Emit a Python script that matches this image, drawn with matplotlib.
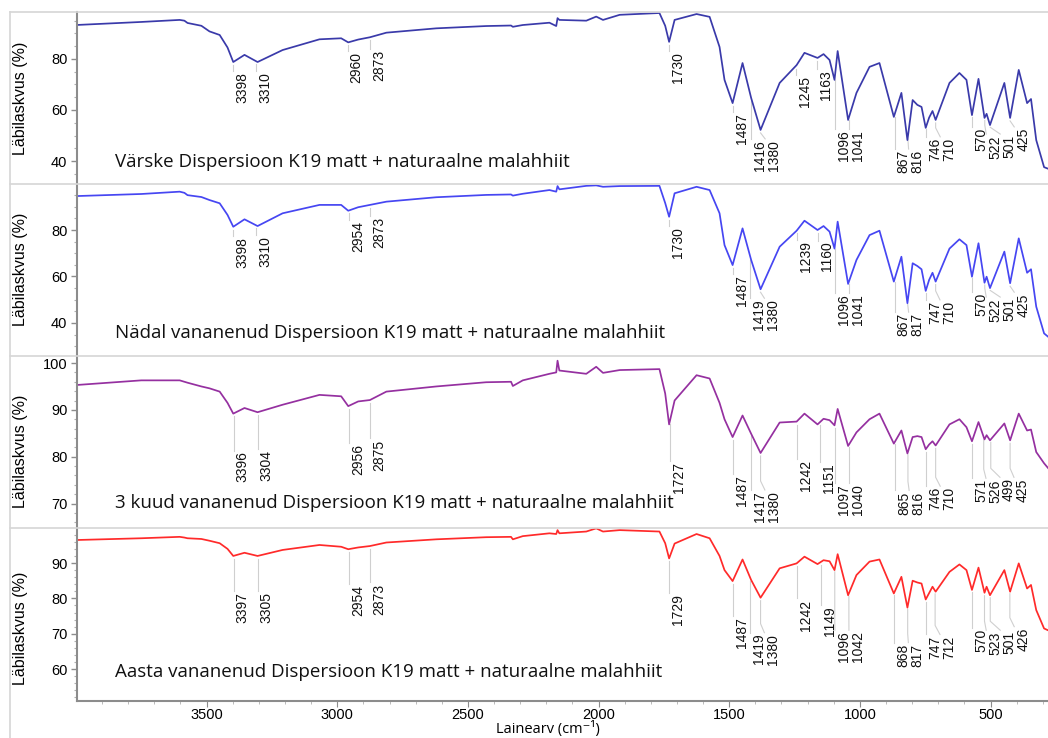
import numpy as np
import matplotlib.pyplot as plt
from matplotlib.lines import Line2D
from matplotlib.ticker import MultipleLocator

# Wavenumber nodes (cm-1), shared by all four spectra
wavenumber = [4000, 3750, 3603, 3585, 3573, 3520, 3489, 3450, 3420, 3398, 3355, 3305,
              3209, 3068, 2985, 2958, 2920, 2875, 2812, 2621, 2430, 2335, 2328, 2290,
              2188, 2162, 2157, 2150, 2047, 2009, 1983, 1919, 1767, 1745, 1730, 1709,
              1625, 1575, 1537, 1518, 1487, 1449, 1416, 1380, 1307, 1242, 1212, 1162,
              1139, 1116, 1097, 1085, 1045, 1013, 963, 925, 870, 841, 818, 798,
              780, 764, 748, 735, 722, 710, 657, 619, 592, 571, 546, 523,
              515, 502, 447, 425, 392, 360, 345, 325, 295, 280]

# Transmittance (%)
vaerske = [93.3, 94.5, 95.3, 95.0, 94.1, 93.0, 90.8, 89.4, 84.5, 78.8, 81.6, 78.8,
           83.5, 87.7, 88.1, 86.5, 87.6, 88.5, 90.3, 92.0, 92.9, 93.1, 92.6, 93.3,
           94.2, 92.9, 96.0, 95.3, 95.0, 96.6, 95.3, 97.3, 98.0, 93.0, 86.7, 95.3,
           97.6, 96.5, 84.7, 71.8, 62.7, 78.4, 64.7, 52.2, 70.6, 77.6, 82.4, 80.4,
           81.9, 79.6, 71.8, 83.1, 56.1, 66.7, 76.9, 78.4, 57.3, 66.7, 48.2, 63.9,
           62.0, 61.2, 53.0, 57.0, 59.6, 56.1, 70.6, 74.5, 71.8, 58.0, 72.2, 56.9,
           58.5, 54.1, 70.6, 56.9, 75.7, 62.7, 64.3, 48.2, 37.6, 37.0]

naedal = [94.6, 95.5, 96.5, 96.0, 95.0, 94.2, 92.9, 91.5, 86.5, 81.4, 84.6, 81.7,
          87.2, 90.8, 90.8, 88.3, 89.8, 90.8, 92.2, 94.1, 95.1, 95.3, 94.8, 95.6,
          97.2, 96.5, 98.9, 97.5, 99.0, 99.2, 98.6, 98.9, 99.0, 91.6, 85.7, 95.8,
          98.6, 97.2, 87.2, 73.5, 64.9, 80.7, 67.1, 54.5, 72.8, 79.7, 84.0, 80.0,
          81.7, 79.3, 72.0, 83.6, 56.8, 67.1, 77.8, 79.7, 57.8, 68.5, 48.5, 65.7,
          64.5, 63.1, 53.8, 58.5, 61.6, 57.8, 72.0, 76.0, 73.5, 59.9, 74.3, 57.3,
          59.9, 55.0, 70.7, 57.1, 76.4, 61.6, 63.1, 47.0, 35.5, 34.1]

kuud3 = [95.3, 96.3, 96.3, 96.0, 95.8, 95.0, 94.6, 93.9, 91.5, 89.2, 90.4, 89.5,
         91.1, 93.2, 92.9, 90.8, 91.8, 92.1, 93.9, 95.0, 95.9, 96.0, 95.1, 96.3,
         97.7, 98.0, 100.5, 98.4, 97.7, 99.2, 97.9, 98.5, 98.7, 93.5, 86.9, 92.0,
         97.4, 96.7, 91.5, 88.0, 84.2, 88.8, 84.9, 80.8, 87.3, 87.5, 89.2, 86.9,
         88.1, 87.8, 86.7, 90.2, 82.3, 85.2, 88.0, 89.2, 82.8, 85.6, 80.7, 84.2,
         84.4, 84.2, 81.6, 82.6, 83.3, 82.4, 86.9, 88.0, 86.3, 83.3, 87.4, 83.7,
         84.6, 83.5, 87.1, 83.5, 89.2, 85.6, 85.8, 81.0, 78.6, 77.6]

aasta = [96.5, 97.0, 97.4, 97.2, 97.0, 96.8, 96.3, 95.6, 94.0, 92.0, 92.9, 92.0,
         93.7, 95.1, 94.6, 93.9, 94.4, 94.8, 95.8, 96.7, 97.3, 97.4, 96.7, 97.6,
         98.4, 98.2, 99.3, 98.4, 98.9, 99.8, 98.9, 99.3, 98.9, 95.6, 91.3, 95.5,
         98.2, 97.0, 92.0, 88.0, 84.9, 91.0, 85.2, 80.2, 88.5, 89.9, 91.8, 89.7,
         90.8, 90.5, 88.0, 92.5, 80.9, 86.6, 90.4, 91.0, 81.4, 86.1, 77.4, 85.0,
         84.5, 84.2, 79.7, 81.5, 83.3, 81.9, 87.5, 89.6, 88.0, 82.4, 88.7, 81.6,
         83.3, 80.9, 88.0, 81.9, 89.9, 82.8, 83.8, 76.7, 71.5, 71.0]

peaks_vaerske = [3398, 3310, 2960, 2873, 1730, 1487, 1416, 1380, 1245, 1163, 1096, 1041,
                 867, 816, 746, 710, 570, 522, 501, 425]
peaks_naedal = [3398, 3310, 2954, 2873, 1730, 1487, 1419, 1380, 1239, 1160, 1096, 1041,
                867, 817, 747, 710, 570, 522, 501, 425]
peaks_kuud3 = [3396, 3304, 2956, 2875, 1727, 1487, 1417, 1380, 1242, 1151, 1097, 1040,
               865, 816, 746, 710, 571, 526, 499, 425]
peaks_aasta = [3397, 3305, 2954, 2873, 1729, 1487, 1419, 1380, 1242, 1149, 1096, 1042,
               868, 817, 747, 712, 570, 523, 501, 426]

titles = ["Värske Dispersioon K19 matt + naturaalne malahhiit",
          "Nädal vananenud Dispersioon K19 matt + naturaalne malahhiit",
          "3 kuud vananenud Dispersioon K19 matt + naturaalne malahhiit",
          "Aasta vananenud Dispersioon K19 matt + naturaalne malahhiit"]

spectra = [vaerske, naedal, kuud3, aasta]
peaks = [peaks_vaerske, peaks_naedal, peaks_kuud3, peaks_aasta]
colors = ["#3a3aaa", "#4646f2", "#9530a0", "#ff2a2a"]
ylims = [(31, 98.4), (26.2, 99.8), (65, 101.5), (51, 99.9)]
major_step = [20, 20, 10, 10]
minor_step = [5, 5, 2, 2]
label_drop = [10, 10, 38, 36]      # px between curve minimum and label top
title_y = [0.128, 0.129, 0.14, 0.168]
ylabel_y = [0.5, 0.5, 0.44, 0.42]

W, H = 1048, 738
tops = [12, 184, 356, 528]
bottoms = [184, 355, 527, 701]
left_px, right_px = 77, 1048
xmax, xmin = 3996, 280

fig = plt.figure(figsize=(W / 100, H / 100), dpi=100)

wn = np.array(wavenumber, dtype=float)
ppx = (right_px - left_px) / (xmax - xmin)

for i in range(4):
    T = np.array(spectra[i], dtype=float)
    ax = fig.add_axes([left_px / W, 1 - bottoms[i] / H,
                       (right_px - left_px) / W, (bottoms[i] - tops[i]) / H])
    ax.plot(wn, T, color=colors[i], lw=1.25)
    ax.set_xlim(xmax, xmin)
    ax.set_ylim(*ylims[i])
    ppy = (bottoms[i] - tops[i]) / (ylims[i][1] - ylims[i][0])

    # peak labels with leader lines
    pk = peaks[i]
    lpx = [(xmax - p) * ppx for p in pk]
    for k in range(1, len(lpx)):
        lpx[k] = max(lpx[k], lpx[k - 1] + 14)
    for p, px in zip(pk, lpx):
        y0 = np.interp(p, wn[::-1], T[::-1])
        near = T[np.abs(wn - p) <= 60]
        ymin_loc = min(y0, near.min()) if len(near) else y0
        ytop = ymin_loc - label_drop[i] / ppy
        lx = xmax - px / ppx
        ystart = y0 - 3 / ppy
        ybend = min(ystart, ytop + 10 / ppy)
        ax.plot([p, p, lx], [ystart, ybend, ytop + 1 / ppy],
                color="#cfcfcf", lw=0.8, zorder=1)
        ax.text(lx - 2 / ppx, ytop, str(p), rotation=90, ha="left", va="top",
                fontsize=10, family="Liberation Sans", color="#111111")

    ax.text(0.039, title_y[i], titles[i], transform=ax.transAxes, fontsize=13.5,
            family="Open Sans", va="center", ha="left", color="#111111")

    ax.yaxis.set_major_locator(MultipleLocator(major_step[i]))
    ax.yaxis.set_minor_locator(MultipleLocator(minor_step[i]))
    ax.tick_params(axis="y", which="major", length=4, width=1, color="#8c8c8c",
                   labelsize=10.5, pad=3)
    ax.tick_params(axis="y", which="minor", length=2, width=0.8, color="#b0b0b0")
    for lab in ax.get_yticklabels():
        lab.set_family("Liberation Sans")
    ax.set_ylabel("Läbilaskvus (%)", fontsize=11.5, family="Liberation Sans")
    ax.yaxis.set_label_coords(-0.05, ylabel_y[i])

    for s in ["top", "right", "bottom"]:
        ax.spines[s].set_visible(False)
    ax.spines["left"].set_color("#8c8c8c")
    ax.spines["left"].set_linewidth(1.5)

    if i < 3:
        ax.tick_params(axis="x", which="both", bottom=False, labelbottom=False)
    else:
        ax.spines["bottom"].set_visible(True)
        ax.spines["bottom"].set_color("#8c8c8c")
        ax.spines["bottom"].set_linewidth(1.5)
        ax.xaxis.set_major_locator(MultipleLocator(500))
        ax.xaxis.set_minor_locator(MultipleLocator(100))
        ax.tick_params(axis="x", which="major", length=4, color="#8c8c8c",
                       labelsize=10.5, pad=1)
        ax.tick_params(axis="x", which="minor", length=2, color="#b0b0b0")
        for lab in ax.get_xticklabels():
            lab.set_family("Liberation Sans")

# x axis title
fig.text(548 / W, 1 - 729 / H, "Lainearv (cm⁻¹)", fontsize=10.5,
         family=["Open Sans", "DejaVu Sans"], ha="center", va="center")

# light frame lines between the panels
for y in [12, 184, 355.5, 527.5]:
    fig.add_artist(Line2D([10 / W, 1], [1 - y / H, 1 - y / H],
                          color="#d6d6d6", lw=1.2))
fig.add_artist(Line2D([10 / W, 10 / W], [0, 1 - 12 / H], color="#d6d6d6", lw=1.2))

fig.savefig("out.png", dpi=100)
